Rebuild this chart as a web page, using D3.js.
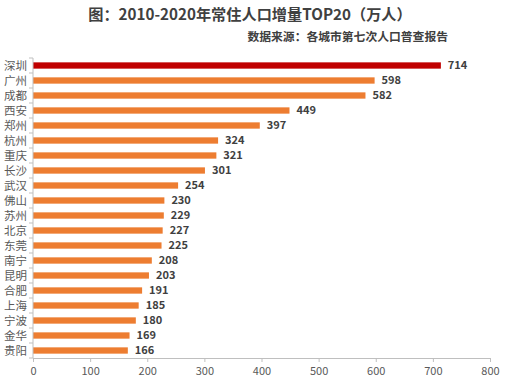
<!DOCTYPE html>
<html><head><meta charset="utf-8">
<script src="https://cdn.jsdelivr.net/npm/d3@7"></script>
<style>body{margin:0;background:#fff;}svg{display:block;}</style>
</head><body><svg id="c" width="508" height="382"></svg>
<script>
const cities = ["深圳","广州","成都","西安","郑州","杭州","重庆","长沙","武汉","佛山","苏州","北京","东莞","南宁","昆明","合肥","上海","宁波","金华","贵阳"];
const values = [714,598,582,449,397,324,321,301,254,230,229,227,225,208,203,191,185,180,169,166];
const xTicks = [0,100,200,300,400,500,600,700,800];
const title = "图：2010-2020年常住人口增量TOP20（万人）";
const subtitle = "数据来源：各城市第七次人口普查报告";

const svg = d3.select("#c");
const font = "'Noto Sans CJK SC','Noto Sans',sans-serif";
const x = d3.scaleLinear().domain([0,800]).range([33,490]);
const y = d3.scaleBand().domain(cities).range([58,358]).paddingInner(0.58).paddingOuter(0.29);

svg.append("text").attr("x",250).attr("y",20).attr("text-anchor","middle")
  .attr("font-family",font).attr("font-weight","bold").attr("font-size",15.2).attr("fill","#404040").text(title);
svg.append("text").attr("x",448).attr("y",41).attr("text-anchor","end")
  .attr("font-family",font).attr("font-weight","bold").attr("font-size",11.8).attr("fill","#404040").text(subtitle);

svg.selectAll("rect.bar").data(values).enter().append("rect")
  .attr("x",x(0)).attr("y",(d,i)=>y(cities[i])).attr("width",d=>x(d)-x(0)).attr("height",y.bandwidth())
  .attr("fill",(d,i)=>i===0?"#C00000":"#ED7D31");

svg.selectAll("text.val").data(values).enter().append("text")
  .attr("x",d=>x(d)+7).attr("y",(d,i)=>y(cities[i])+y.bandwidth()/2).attr("dy","0.35em")
  .attr("font-family",font).attr("font-weight","bold").attr("font-size",11).attr("fill","#404040").text(d=>d);

// x axis
const xa = svg.append("g").attr("transform","translate(0,358)")
  .call(d3.axisBottom(x).tickValues(xTicks).tickSize(4).tickSizeOuter(0));
xa.select(".domain").attr("stroke","#bfbfbf");
xa.selectAll(".tick line").attr("stroke","#bfbfbf");
xa.selectAll("text").attr("font-family",font).attr("font-size",11).attr("fill","#595959").attr("dy","0.9em");

// y axis
const ya = svg.append("g").attr("transform","translate(33,0)");
ya.append("line").attr("x1",0).attr("x2",0).attr("y1",58).attr("y2",358).attr("stroke","#bfbfbf");
const step = y.step();
const bounds = d3.range(cities.length+1).map(i=>58+i*step);
ya.selectAll("line.t").data(bounds).enter().append("line")
  .attr("x1",-4).attr("x2",0).attr("y1",d=>d).attr("y2",d=>d).attr("stroke","#bfbfbf");
ya.selectAll("text").data(cities).enter().append("text")
  .attr("x",-6).attr("y",d=>y(d)+y.bandwidth()/2).attr("dy","0.35em").attr("text-anchor","end")
  .attr("font-family",font).attr("font-size",11.5).attr("fill","#595959").text(d=>d);
</script></body></html>
